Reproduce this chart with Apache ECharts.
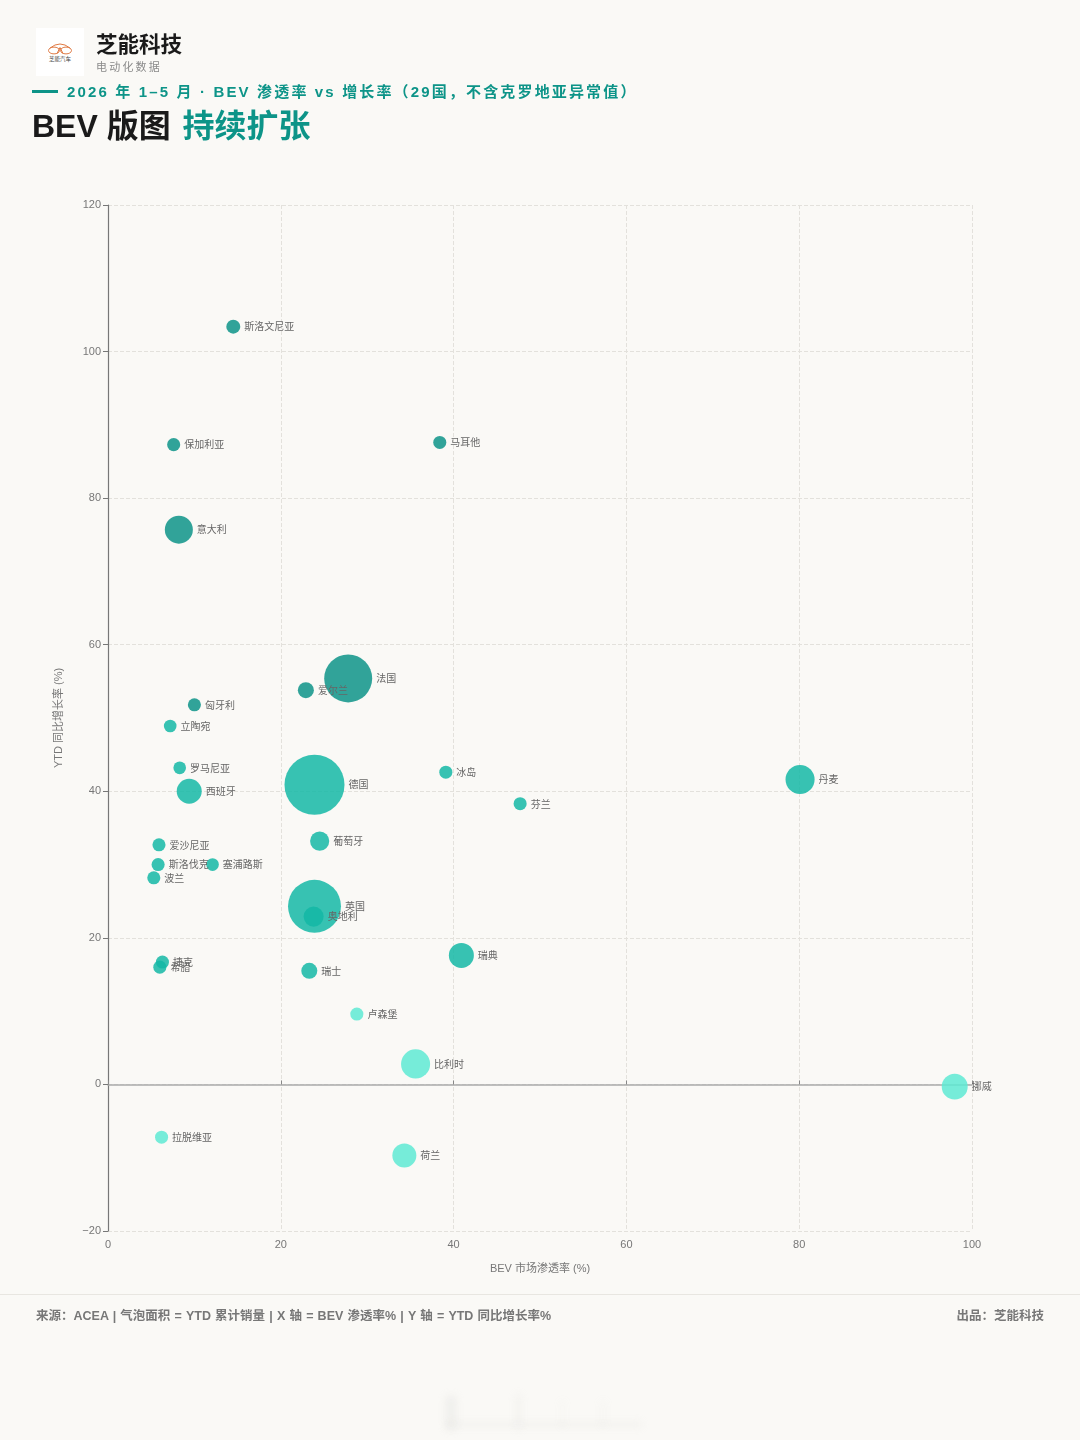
<!DOCTYPE html>
<html lang="zh-CN">
<head>
<meta charset="utf-8">
<title>BEV 版图 持续扩张</title>
<script src="https://cdn.jsdelivr.net/npm/echarts@6/dist/echarts.min.js"></script>
<style>
  html, body { margin: 0; padding: 0; background: #faf9f6; }
  #page { position: relative; width: 1080px; height: 1440px; overflow: hidden; background: #faf9f6;
          font-family: "Liberation Sans", "Noto Sans CJK SC", sans-serif; }
  #chart { position: absolute; left: 0; top: 0; width: 1080px; height: 1440px; }
  .abs { position: absolute; white-space: nowrap; line-height: 1; }
  #logo { left: 36px; top: 28px; width: 48px; height: 48px; background: #fff; }
  #brand { left: 96px; top: 35px; font-size: 21.5px; font-weight: 700; color: #1a1a1a; }
  #tagline { left: 96px; top: 62px; font-size: 11px; letter-spacing: 2.2px; color: #8a8a8a; }
  #dash { left: 32px; top: 90px; width: 26px; height: 3px; background: #0d9488; }
  #kicker { left: 67px; top: 84px; font-size: 15px; font-weight: 700; letter-spacing: 2.15px; color: #0d9488; }
  #headline { left: 32px; top: 110px; font-size: 32px; font-weight: 700; color: #1a1a1a; }
  #headline span { color: #0d9488; margin-left: 3px; }
  #rule { left: 0; top: 1294px; width: 1080px; height: 1px; background: #e8e6e1; }
  #source { left: 36px; top: 1310px; font-size: 12.5px; font-weight: 600; color: #777; word-spacing: 0.7px; }
  #credit { right: 36px; top: 1310px; font-size: 12.5px; font-weight: 600; color: #777; }
  .smudge { position: absolute; background: #c9c9c6; filter: blur(4px); }
</style>
</head>
<body>
<div id="page">
  <div id="chart"></div>
  <div class="abs" id="logo">
    <svg width="48" height="48" viewBox="0 0 48 48">
      <g fill="none" stroke="#e07b45" stroke-width="1">
        <ellipse cx="18" cy="22.5" rx="5.5" ry="3.4"/>
        <ellipse cx="30" cy="22.5" rx="5.5" ry="3.4"/>
        <path d="M14 20 Q24 12 34 20"/>
        <path d="M21 25.5 L24 19.5 L27 25.5"/>
      </g>
      <text x="24" y="32.5" text-anchor="middle" font-size="5.5" fill="#444" font-family="Noto Sans CJK SC">芝能汽车</text>
    </svg>
  </div>
  <div class="abs" id="brand">芝能科技</div>
  <div class="abs" id="tagline">电动化数据</div>
  <div class="abs" id="dash"></div>
  <div class="abs" id="kicker">2026 年 1–5 月 · BEV 渗透率 vs 增长率（29国，不含克罗地亚异常值）</div>
  <div class="abs" id="headline">BEV 版图 <span>持续扩张</span></div>
  <div class="abs" id="rule"></div>
  <div class="abs" id="source">来源：ACEA | 气泡面积 = YTD 累计销量 | X 轴 = BEV 渗透率% | Y 轴 = YTD 同比增长率%</div>
  <div class="abs" id="credit">出品：芝能科技</div>
  <div class="smudge" style="left:446px;top:1396px;width:10px;height:34px;opacity:.22"></div>
  <div class="smudge" style="left:516px;top:1394px;width:5px;height:36px;opacity:.16"></div>
  <div class="smudge" style="left:560px;top:1400px;width:5px;height:28px;opacity:.06"></div>
  <div class="smudge" style="left:600px;top:1400px;width:6px;height:28px;opacity:.06"></div>
  <div class="smudge" style="left:446px;top:1422px;width:196px;height:5px;opacity:.16"></div>
</div>
<script>
// Countries, BEV share (%), YTD growth (%) and YTD BEV sales (thousand units)
const countries = ['斯洛文尼亚','保加利亚','马耳他','意大利','法国','爱尔兰','匈牙利','立陶宛','罗马尼亚','西班牙',
  '德国','冰岛','芬兰','丹麦','爱沙尼亚','斯洛伐克','塞浦路斯','波兰','葡萄牙','英国',
  '奥地利','捷克','希腊','瑞士','瑞典','卢森堡','比利时','挪威','拉脱维亚','荷兰'];
const penetration = [14.5,7.6,38.4,8.2,27.8,22.9,10.0,7.2,8.3,9.4,
  23.9,39.1,47.7,80.1,5.9,5.8,12.1,5.3,24.5,23.9,
  23.8,6.3,6.0,23.3,40.9,28.8,35.6,98.0,6.2,34.3];
const growth = [103.4,87.3,87.6,75.7,55.4,53.8,51.8,48.9,43.2,40.0,
  40.9,42.6,38.3,41.6,32.7,30.0,30.0,28.2,33.2,24.3,
  22.9,16.7,16.0,15.5,17.6,9.6,2.8,-0.3,-7.2,-9.7];
const sales = [16,14,14,64,188,21,14,13,13,51,
  294,14,14,69,14,14,13,14,30,229,
  33,14,14,21,51,14,69,55,14,47];

const xTicksMax = 100;
const yMin = -20, yMax = 120;
const darkTeal = 'rgba(13,148,136,0.85)';
const midTeal = 'rgba(20,184,166,0.85)';
const lightTeal = 'rgba(94,234,212,0.85)';

function bandColor(g) {
  if (g >= 50) return darkTeal;
  if (g >= 10) return midTeal;
  return lightTeal;
}

const points = countries.map((name, i) => ({
  name,
  value: [penetration[i], growth[i], sales[i]],
  itemStyle: { color: bandColor(growth[i]), opacity: 1 }
}));

const tickFont = { color: '#777', fontSize: 11, fontFamily: '"Liberation Sans", "Noto Sans CJK SC", sans-serif' };
const nameFont = { color: '#777', fontSize: 11, fontFamily: '"Liberation Sans", "Noto Sans CJK SC", sans-serif' };

const chart = echarts.init(document.getElementById('chart'), null, { renderer: 'canvas' });
chart.setOption({
  animation: false,
  backgroundColor: 'transparent',
  grid: { left: 108, right: 108, top: 205, bottom: 209 },
  xAxis: [
    {
      // labels and grid along the bottom edge
      type: 'value', min: 0, max: xTicksMax, interval: 20,
      position: 'bottom',
      name: 'BEV 市场渗透率 (%)', nameLocation: 'middle', nameGap: 32, nameTextStyle: nameFont,
      axisLine: { show: false }, axisTick: { show: false },
      axisLabel: { ...tickFont, margin: 8 },
      splitLine: { show: true, lineStyle: { color: '#e3e1dc', type: 'dashed', width: 1 } }
    },
    {
      // baseline running through zero growth
      type: 'value', min: 0, max: xTicksMax, interval: 20,
      axisLine: { show: true, onZero: true, onZeroAxisIndex: 0, lineStyle: { color: '#aaa', width: 1.5 } },
      axisTick: { show: true, length: 4, inside: false, lineStyle: { color: '#888' } },
      axisLabel: { show: false },
      splitLine: { show: false }
    }
  ],
  yAxis: {
    type: 'value', min: yMin, max: yMax, interval: 20,
    name: 'YTD 同比增长率 (%)', nameLocation: 'middle', nameGap: 44, nameTextStyle: nameFont,
    axisLine: { show: true, onZero: false, lineStyle: { color: '#777', width: 1.2 } },
    axisTick: { show: true, length: 5, lineStyle: { color: '#777' } },
    axisLabel: { ...tickFont, margin: 7, formatter: v => String(v).replace('-', '−') },
    splitLine: { show: true, lineStyle: { color: '#e3e1dc', type: 'dashed', width: 1 } }
  },
  series: [{
    type: 'scatter',
    xAxisIndex: 0,
    data: points,
    symbolSize: v => Math.sqrt(v[2]) * 3.5,
    label: {
      show: true, position: 'right', distance: 4,
      formatter: p => p.name, color: '#666', fontSize: 10,
      fontFamily: '"Noto Sans CJK SC", sans-serif'
    },
    labelLayout: { hideOverlap: false }
  }]
});
</script>
</body>
</html>
